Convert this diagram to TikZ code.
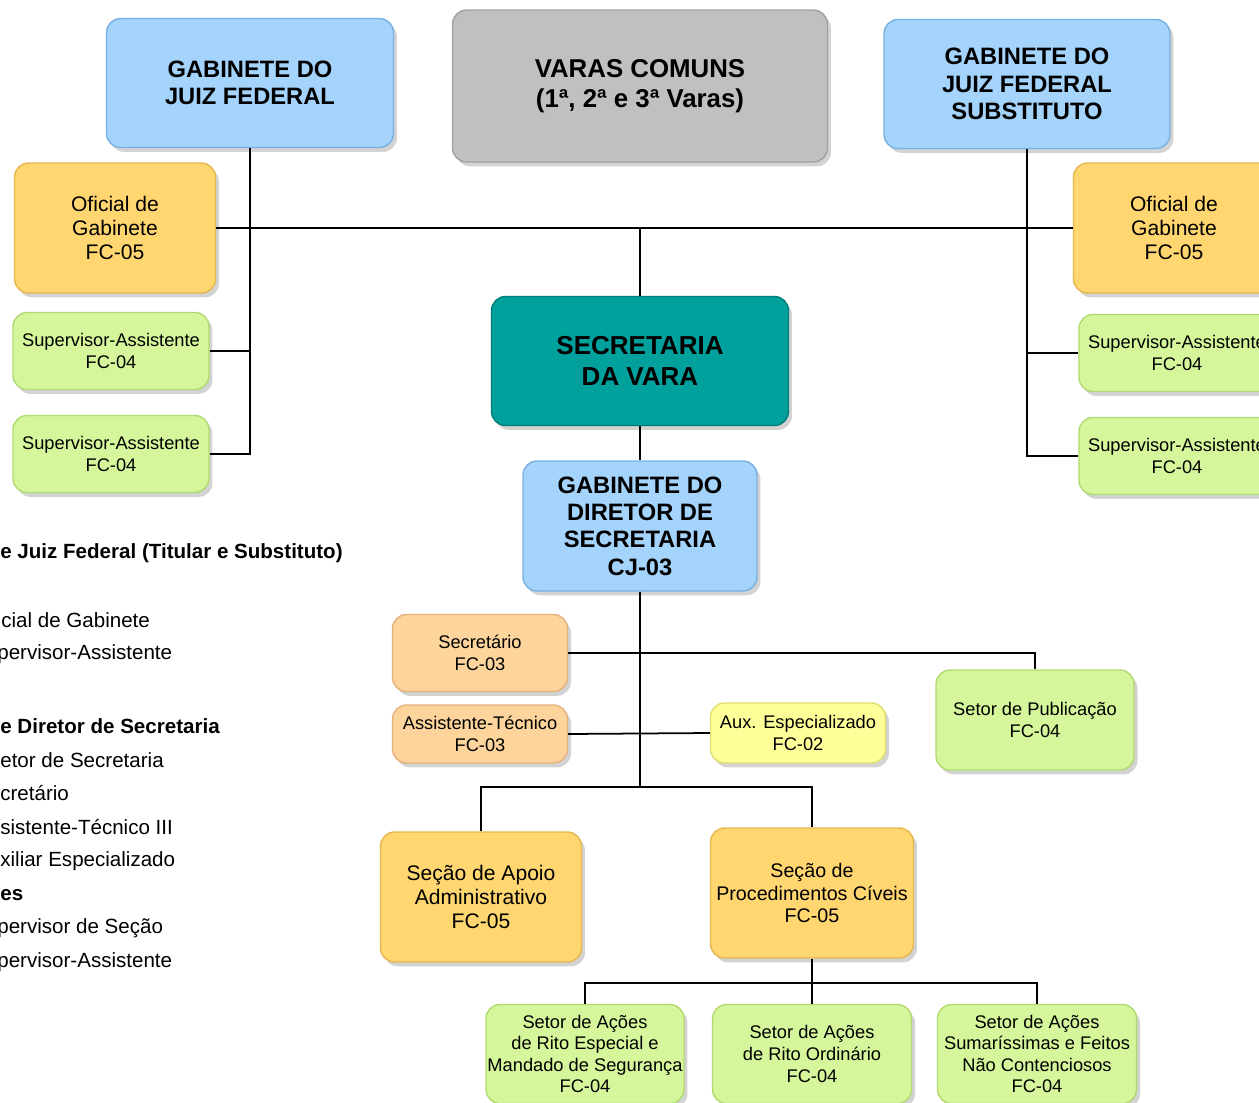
\documentclass[tikz,border=0pt]{standalone}
\usepackage{fontspec}
\setmainfont{Liberation Sans}
\usetikzlibrary{shadows}
\definecolor{azul}{RGB}{164, 211, 251}
\definecolor{azulb}{RGB}{120, 176, 228}
\definecolor{cinza}{RGB}{192, 192, 192}
\definecolor{cinzab}{RGB}{160, 160, 160}
\definecolor{verdeagua}{RGB}{0, 160, 156}
\definecolor{verdeaguab}{RGB}{0, 125, 122}
\definecolor{laranja}{RGB}{255, 214, 112}
\definecolor{laranjab}{RGB}{230, 182, 80}
\definecolor{verde}{RGB}{213, 246, 154}
\definecolor{verdeb}{RGB}{176, 218, 112}
\definecolor{pessego}{RGB}{252, 212, 156}
\definecolor{pessegob}{RGB}{228, 178, 120}
\definecolor{amarelo}{RGB}{255, 255, 153}
\definecolor{amarelob}{RGB}{222, 222, 110}

\tikzset{
    caixa/.style={rounded corners=0.28cm, inner sep=0pt, align=center, line width=0.8pt,
        drop shadow={shadow xshift=2pt, shadow yshift=-2.5pt, opacity=0.35}},
    azulbox/.style={caixa, fill=azul, draw=azulb},
    cinzabox/.style={caixa, fill=cinza, draw=cinzab},
    tealbox/.style={caixa, fill=verdeagua, draw=verdeaguab},
    laranjabox/.style={caixa, fill=laranja, draw=laranjab},
    verdebox/.style={caixa, fill=verde, draw=verdeb},
    pessegobox/.style={caixa, fill=pessego, draw=pessegob},
    amarelobox/.style={caixa, fill=amarelo, draw=amarelob},
    grande/.style={font=\fontsize{13.5}{15.6}\selectfont\bfseries},
    media/.style={font=\fontsize{12}{13.6}\selectfont},
    pequena/.style={font=\fontsize{10.4}{12.3}\selectfont},
    legenda/.style={anchor=west, inner sep=0pt, font=\fontsize{11.7}{14}\selectfont},
    liga/.style={line width=1pt}
}

\begin{document}
\begin{tikzpicture}[x=0.02cm, y=-0.02cm]
    \useasboundingbox (0,0) rectangle (1259,1103);
    \clip (0,0) rectangle (1259,1103);

    % topo
    \node[azulbox, grande, minimum width=5.74cm, minimum height=2.58cm] (gjfL) at (250,83) {GABINETE DO\\JUIZ FEDERAL};
    \node[cinzabox, font=\fontsize{14.7}{17}\selectfont\bfseries, minimum width=7.5cm, minimum height=3.04cm] (varas) at (640,86) {VARAS COMUNS\\(1ª, 2ª e 3ª Varas)};
    \node[azulbox, grande, minimum width=5.72cm, minimum height=2.58cm] (gjfR) at (1027,84) {GABINETE DO\\JUIZ FEDERAL\\SUBSTITUTO};

    % gabinetes
    \node[laranjabox, media, minimum width=4.02cm, minimum height=2.6cm] (ofL) at (115,228) {Oficial de\\Gabinete\\FC-05};
    \node[verdebox, pequena, minimum width=3.92cm, minimum height=1.54cm] (supL1) at (111,351) {Supervisor-Assistente\\FC-04};
    \node[verdebox, pequena, minimum width=3.92cm, minimum height=1.54cm] (supL2) at (111,454) {Supervisor-Assistente\\FC-04};
    \node[laranjabox, media, minimum width=4.02cm, minimum height=2.6cm] (ofR) at (1174,228) {Oficial de\\Gabinete\\FC-05};
    \node[verdebox, pequena, minimum width=3.92cm, minimum height=1.54cm] (supR1) at (1177,353) {Supervisor-Assistente\\FC-04};
    \node[verdebox, pequena, minimum width=3.92cm, minimum height=1.54cm] (supR2) at (1177,456) {Supervisor-Assistente\\FC-04};

    % secretaria
    \node[tealbox, font=\fontsize{14.8}{17.6}\selectfont\bfseries, minimum width=5.94cm, minimum height=2.58cm] (sec) at (640,361) {SECRETARIA\\DA VARA};
    \node[azulbox, grande, minimum width=4.68cm, minimum height=2.6cm] (gdir) at (640,526) {GABINETE DO\\DIRETOR DE\\SECRETARIA\\CJ-03};
    \node[pessegobox, pequena, minimum width=3.5cm, minimum height=1.54cm] (secr) at (480,653) {Secretário\\FC-03};
    \node[pessegobox, pequena, minimum width=3.5cm, minimum height=1.16cm] (assist) at (480,734) {Assistente-Técnico\\FC-03};
    \node[amarelobox, pequena, minimum width=3.5cm, minimum height=1.2cm] (aux) at (798,733) {Aux. Especializado\\FC-02};
    \node[verdebox, pequena, minimum width=3.96cm, minimum height=2cm] (pub) at (1035,720) {Setor de Publicação\\FC-04};
    \node[laranjabox, media, minimum width=4.02cm, minimum height=2.6cm] (apoio) at (481,897) {Seção de Apoio\\Administrativo\\FC-05};
    \node[laranjabox, font=\fontsize{11.2}{13}\selectfont, minimum width=4.06cm, minimum height=2.6cm] (proc) at (812,893) {Seção de\\Procedimentos Cíveis\\FC-05};

    % setores
    \node[verdebox, pequena, minimum width=3.96cm, minimum height=1.98cm] (setA) at (585,1054) {Setor de Ações\\de Rito Especial e\\Mandado de Segurança\\FC-04};
    \node[verdebox, pequena, minimum width=3.98cm, minimum height=1.98cm] (setB) at (812,1054) {Setor de Ações\\de Rito Ordinário\\FC-04};
    \node[verdebox, pequena, minimum width=3.98cm, minimum height=1.98cm] (setC) at (1037,1054) {Setor de Ações\\Sumaríssimas e Feitos\\Não Contenciosos\\FC-04};

    \coordinate (hub) at (640,787);
    \coordinate (hub2) at (812,983);

    % ligacoes
    \draw[liga] (gjfL.south) -- (gjfL.south |- supL2.east) -- (supL2.east);
    \draw[liga] (supL1.east) -- (supL1.east -| gjfL.south);
    \draw[liga] (gjfR.south) -- (gjfR.south |- supR2.west) -- (supR2.west);
    \draw[liga] (supR1.west) -- (supR1.west -| gjfR.south);
    \draw[liga] (ofL.east) -- (ofR.west);
    \draw[liga] (sec.north) -- (sec.north |- ofL.east);
    \draw[liga] (sec.south) -- (gdir.north);
    \draw[liga] (gdir.south) -- (hub);
    \draw[liga] (secr.east) -| (pub.north);
    \draw[liga] (assist.east) -- (aux.west);
    \draw[liga] (apoio.north) |- (hub) -| (proc.north);
    \draw[liga] (proc.south) -- (hub2);
    \draw[liga] (setA.north) |- (hub2) -| (setC.north);
    \draw[liga] (hub2) -- (setB.north);

    % legenda
    \node[legenda, font=\fontsize{11.7}{14}\selectfont\bfseries] (t1) at (0,553) {e Juiz Federal (Titular e Substituto)};
    \node[legenda] (t2) at (1,620) {cial de Gabinete};
    \node[legenda] (t3) at (-3,654) {pervisor-Assistente};
    \node[legenda, font=\fontsize{11.7}{14}\selectfont\bfseries] (t4) at (0,726) {e Diretor de Secretaria};
    \node[legenda] (t5) at (0,760) {etor de Secretaria};
    \node[legenda] (t6) at (0,793) {cretário};
    \node[legenda] (t7) at (0,827) {sistente-Técnico III};
    \node[legenda] (t8) at (0,861) {xiliar Especializado};
    \node[legenda, font=\fontsize{11.7}{14}\selectfont\bfseries] (t9) at (0,895) {es};
    \node[legenda] (t10) at (-3,928) {pervisor de Seção};
    \node[legenda] (t11) at (-3,962) {pervisor-Assistente};
\end{tikzpicture}
\end{document}
